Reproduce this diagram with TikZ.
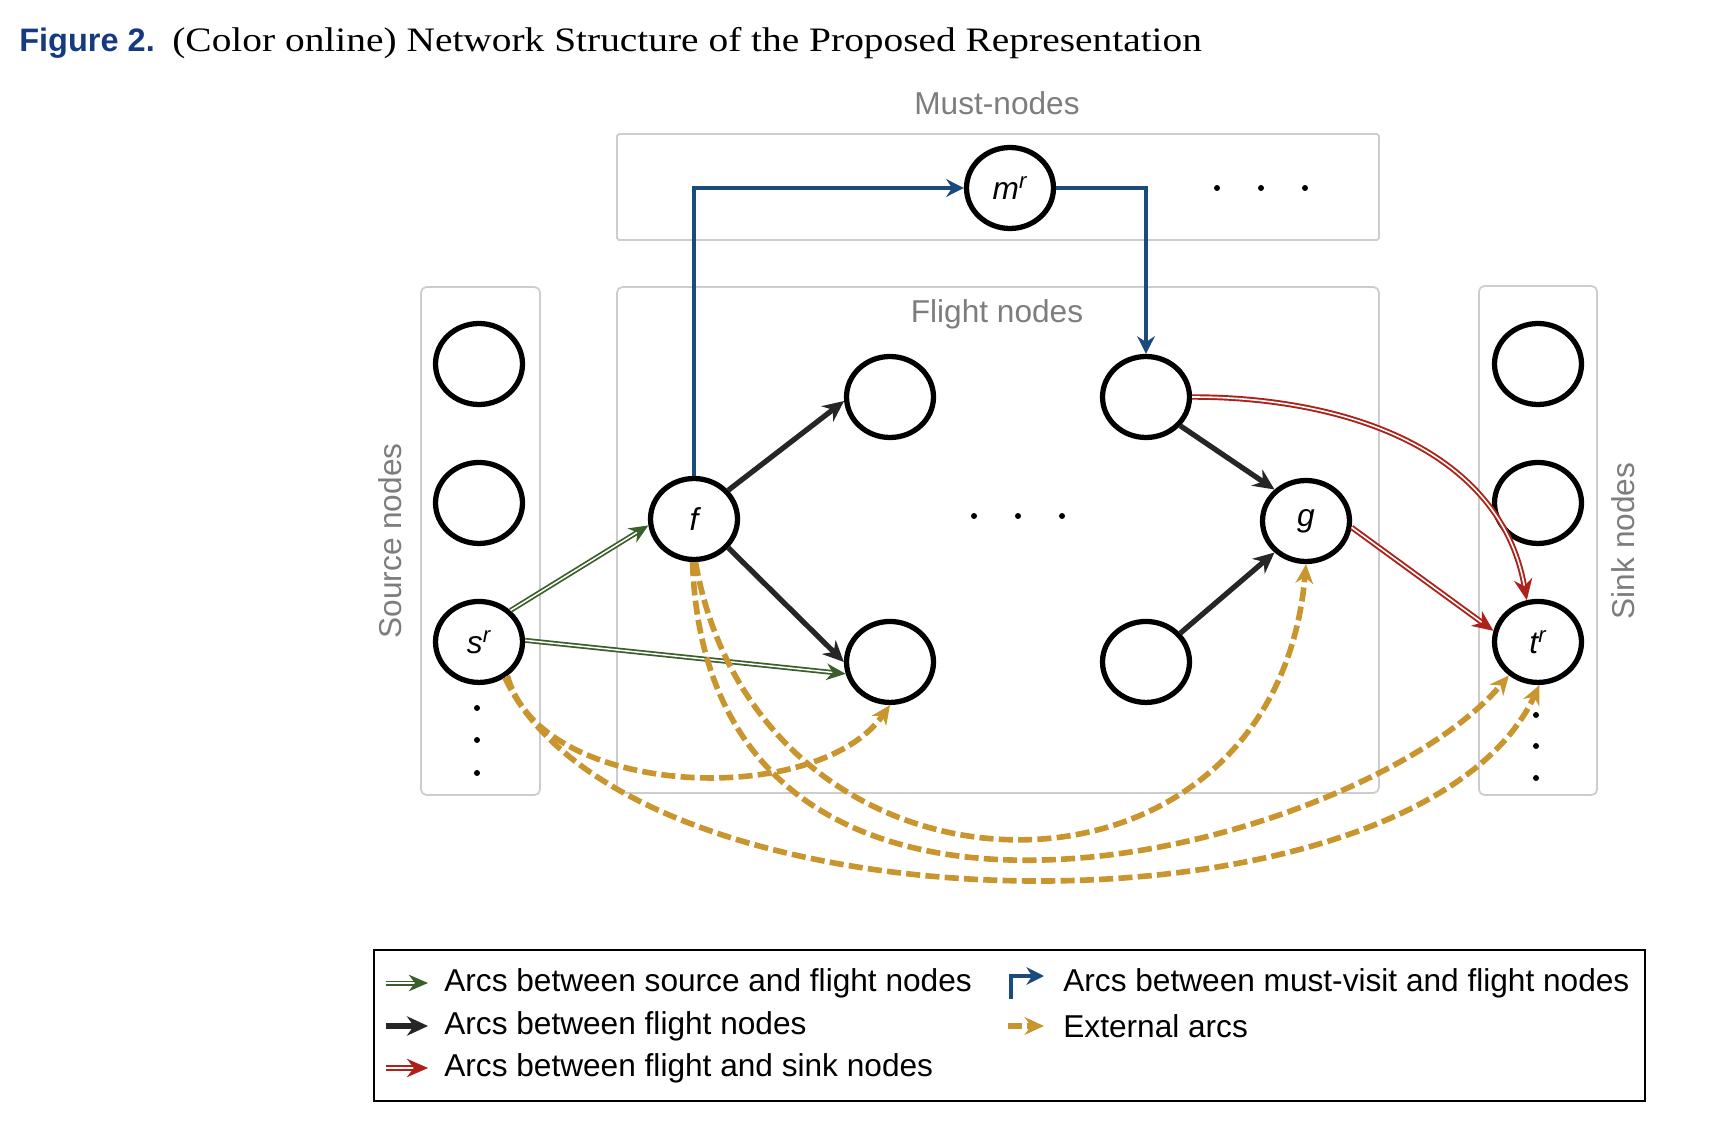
\documentclass[tikz,border=0pt]{standalone}
\usepackage{fontspec}
\setmainfont{Liberation Sans}
\newfontfamily\captionserif[FakeStretch=1.15]{Liberation Serif}
\usepackage{tikz}
\usetikzlibrary{arrows.meta, shapes.geometric, positioning}

\definecolor{arcblue}{RGB}{27,75,126}
\definecolor{arcgreen}{RGB}{58,95,42}
\definecolor{arcred}{RGB}{174,33,25}
\definecolor{arcgold}{RGB}{200,149,47}
\definecolor{arcblack}{RGB}{38,38,38}
\definecolor{boxgray}{RGB}{205,205,205}
\definecolor{labelgray}{RGB}{125,125,125}
\definecolor{figblue}{RGB}{22,58,128}

\begin{document}
\begin{tikzpicture}[x=0.02cm, y=0.02cm, node distance=2.78cm,
                    font=\fontsize{18pt}{22pt}\selectfont]
\tikzset{
  fnode/.style={ellipse, draw=black, line width=3pt, minimum width=1.74cm,
                minimum height=1.62cm, inner sep=0pt,
                font=\fontsize{18pt}{22pt}\selectfont\itshape},
  grp/.style={draw=boxgray, line width=1pt, rounded corners=3pt, inner sep=0pt},
  grplabel/.style={text=labelgray, inner sep=0pt},
  srcarc/.style={-{Stealth[length=11pt,width=9.5pt]}, draw=arcgreen, line width=1pt,
                 double=white, double distance=0.85pt},
  fltarc/.style={-{Stealth[length=12pt,width=11pt]}, draw=arcblack, line width=3pt},
  snkarc/.style={-{Stealth[length=12pt,width=10.5pt]}, draw=arcred, line width=1.1pt,
                 double=white, double distance=0.9pt},
  mustarc/.style={-{Stealth[length=10pt,width=10pt]}, draw=arcblue, line width=2.8pt},
  extarc/.style={-{Stealth[length=11pt,width=10pt]}, draw=arcgold, line width=3.2pt,
                 dash pattern=on 8pt off 3pt}
}
\useasboundingbox (0,0) rectangle (1731,1127);

% caption
\node[anchor=base west, inner sep=0pt] (title) at (19,1075)
  {\fontsize{18.5pt}{22pt}\selectfont\textbf{\color{figblue}Figure 2.}\hspace{10pt}%
   \fontsize{19.5pt}{23pt}\captionserif (Color online) Network Structure of the Proposed Representation};

% groups
\node[grp, minimum width=2.38cm, minimum height=10.16cm]  (srcbox)  at (480.5,586) {};
\node[grp, minimum width=15.24cm, minimum height=10.12cm] (fltbox)  at (998,587)   {};
\node[grp, minimum width=15.24cm, minimum height=2.12cm, rounded corners=1pt] (mustbox) at (998,940) {};
\node[grp, minimum width=2.36cm, minimum height=10.18cm]  (snkbox)  at (1538,586.5) {};

\node[grplabel]            (lmust) at (997,1024) {Must-nodes};
\node[grplabel]            (lflt)  at (997,813)  {Flight nodes};
\node[grplabel, rotate=90] (lsrc)  at (390,586)  {Source nodes};
\node[grplabel, rotate=90] (lsnk)  at (1623,586) {Sink nodes};

% source nodes
\node[fnode]               (s1)               at (479,763) {};
\node[fnode]               (s2) [below of=s1]              {};
\node[fnode]               (s)  [below of=s2]              {s\textsuperscript{r}};

% flight nodes
\node[fnode]               (f)                at (694,608) {f};
\node[fnode]               (ft)               at (890,730) {};
\node[fnode, node distance=5.3cm] (fb) [below of=ft]       {};
\node[fnode]               (rt)               at (1146,730) {};
\node[fnode, node distance=5.3cm] (rb) [below of=rt]       {};
\node[fnode]               (g)                at (1306,606) {g};

% must node
\node[fnode]               (m)                at (1010,939) {m\textsuperscript{r}};

% sink nodes
\node[fnode]               (t1)               at (1538,763) {};
\node[fnode]               (t2) [below of=t1]              {};
\node[fnode]               (t)  [below of=t2]              {t\textsuperscript{r}};

% dots
\foreach \y in {419,387,354} \fill (477,\y) circle (1.7pt);
\foreach \y in {412,381,349} \fill (1536,\y) circle (1.7pt);
\foreach \x in {974,1018,1062} \fill (\x,611) circle (1.7pt);
\foreach \x in {1217,1261,1305} \fill (\x,939) circle (1.7pt);

% arcs
\draw[mustarc] (f.north) |- (m.west);
\draw[mustarc] (m.east) -| (rt.north);

\path
  (s.45)  edge[srcarc] (f.188)
  (s.2)   edge[srcarc] (fb.195)
  (f.40)  edge[fltarc] (ft.185)
  (f.-40) edge[fltarc] (fb.180)
  (rt.-40) edge[fltarc] (g.135)
  (rb.40)  edge[fltarc] (g.225)
  (rt.east) edge[snkarc, out=0, in=100] (t.105)
  (g.-8)   edge[snkarc] (t.166)
  (s.-50) edge[extarc, out=-75, in=-125, looseness=0.85] (fb.south)
  (s.-54) edge[extarc, out=-65, in=-115, looseness=0.72] (t.-88)
  (f.-88) edge[extarc, out=-80, in=-95, looseness=1.55] (g.south)
  (f.-92) edge[extarc, out=-88, in=-130, out looseness=1.45, in looseness=0.7] (t.229)
  ; %end path

% legend
\node[draw=black, line width=1.2pt, minimum width=25.42cm, minimum height=3.02cm,
      inner sep=0pt] (legend) at (1009.5,101.5) {};

\coordinate (ga) at (386,144);  \coordinate (gb) at (428,144);
\coordinate (ka) at (386,101);  \coordinate (kb) at (428,101);
\coordinate (ra) at (386,59);   \coordinate (rb2) at (428,59);
\coordinate (ba) at (1011,128); \coordinate (bb) at (1044,151);
\coordinate (oa) at (1008,101); \coordinate (ob) at (1044,101);

\draw[srcarc]  (ga) -- (gb);
\draw[fltarc]  (ka) -- (kb);
\draw[snkarc]  (ra) -- (rb2);
\draw[mustarc] (ba) |- (bb);
\draw[extarc]  (oa) -- (ob);

\node[anchor=west, inner sep=0pt] (lg) at (444,144)  {Arcs between source and flight nodes};
\node[anchor=west, inner sep=0pt] (lk) at (444,101)  {Arcs between flight nodes};
\node[anchor=west, inner sep=0pt] (lr) at (444,59)   {Arcs between flight and sink nodes};
\node[anchor=west, inner sep=0pt] (lb) at (1063,144) {Arcs between must-visit and flight nodes};
\node[anchor=west, inner sep=0pt] (lo) at (1063,101) {External arcs};

\end{tikzpicture}
\end{document}
